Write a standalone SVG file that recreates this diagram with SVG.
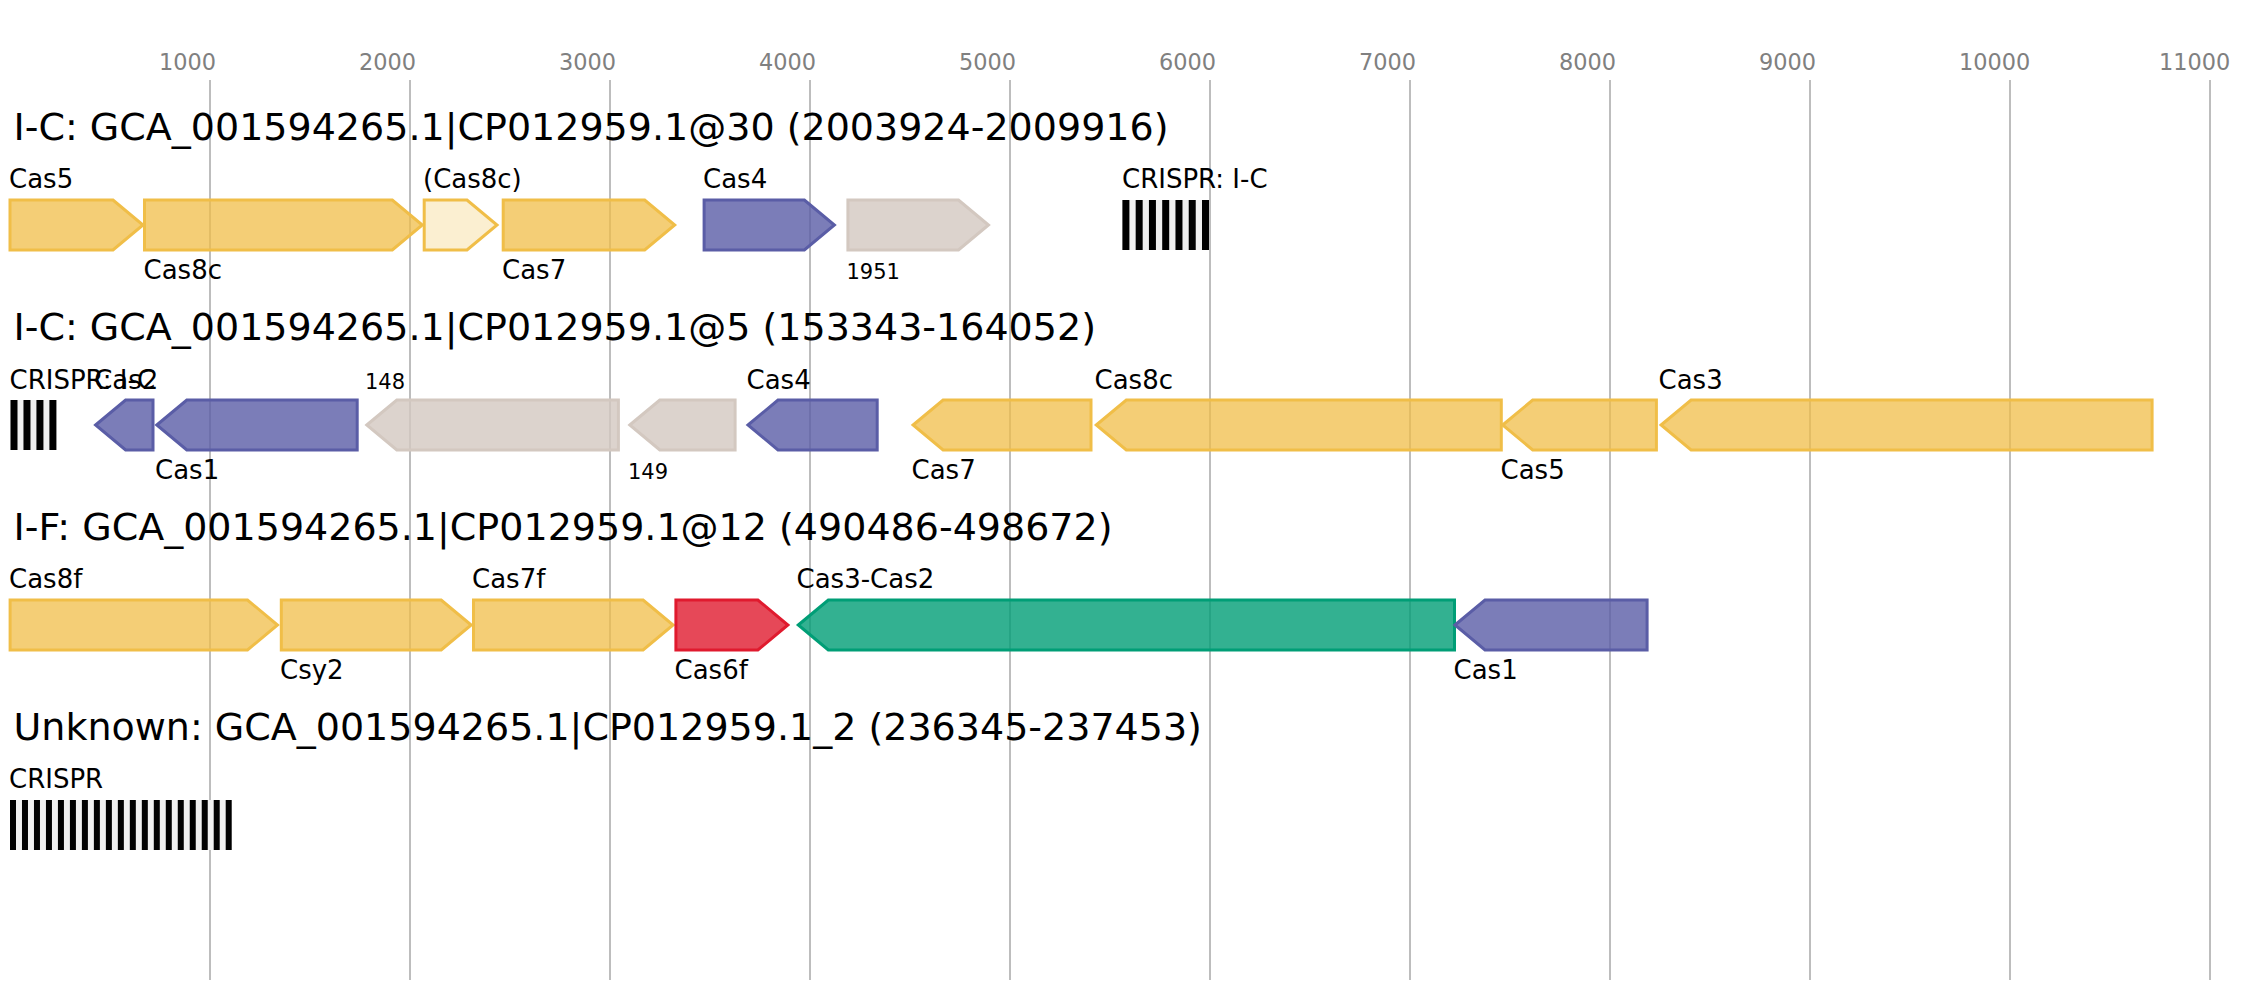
<svg xmlns="http://www.w3.org/2000/svg" width="2242" height="1000" viewBox="0 0 2242 1000">
<style>
text{font-family:"DejaVu Sans","Liberation Sans",sans-serif;fill:#000}
.title{font-size:38px}
.lab{font-size:26px}
.small{font-size:21px}
.tick{font-size:22.4px;fill:#808080}
.grid{stroke:#bdbdbd;stroke-width:2}
.g{stroke-width:3;stroke-linejoin:miter}
.y{fill:#F0BE48;fill-opacity:.75;stroke:#F0BE48}
.yl{fill:#F0BE48;fill-opacity:.25;stroke:#F0BE48}
.b{fill:#5A5DA6;fill-opacity:.8;stroke:#5A5DA6}
.gr{fill:#D3C8C0;fill-opacity:.8;stroke:#D3C8C0}
.r{fill:#E01A2E;fill-opacity:.8;stroke:#E01A2E}
.gn{fill:#009E76;fill-opacity:.8;stroke:#009E76}
.arr{fill:#efefef}
.rep{fill:#000}
</style>
<rect width="2242" height="1000" fill="#fff"/>
<g id="axis">
<line class="grid" x1="210" y1="80" x2="210" y2="980"/>
<line class="grid" x1="410" y1="80" x2="410" y2="980"/>
<line class="grid" x1="610" y1="80" x2="610" y2="980"/>
<line class="grid" x1="810" y1="80" x2="810" y2="980"/>
<line class="grid" x1="1010" y1="80" x2="1010" y2="980"/>
<line class="grid" x1="1210" y1="80" x2="1210" y2="980"/>
<line class="grid" x1="1410" y1="80" x2="1410" y2="980"/>
<line class="grid" x1="1610" y1="80" x2="1610" y2="980"/>
<line class="grid" x1="1810" y1="80" x2="1810" y2="980"/>
<line class="grid" x1="2010" y1="80" x2="2010" y2="980"/>
<line class="grid" x1="2210" y1="80" x2="2210" y2="980"/>
<text class="tick" x="159" y="70">1000</text>
<text class="tick" x="359" y="70">2000</text>
<text class="tick" x="559" y="70">3000</text>
<text class="tick" x="759" y="70">4000</text>
<text class="tick" x="959" y="70">5000</text>
<text class="tick" x="1159" y="70">6000</text>
<text class="tick" x="1359" y="70">7000</text>
<text class="tick" x="1559" y="70">8000</text>
<text class="tick" x="1759" y="70">9000</text>
<text class="tick" x="1959" y="70">10000</text>
<text class="tick" x="2159" y="70">11000</text>
</g>

<g id="row1">
<text class="title" x="13.5" y="140">I-C: GCA_001594265.1|CP012959.1@30 (2003924-2009916)</text>
<g id="r1-cas5"><polygon class="g y" points="10,200 113,200 143,225 113,250 10,250"/><text class="lab" x="9" y="188">Cas5</text></g>
<g id="r1-cas8c"><polygon class="g y" points="144.5,200 392.3,200 422.3,225 392.3,250 144.5,250"/><text class="lab" x="143.5" y="279">Cas8c</text></g>
<g id="r1-cas8c-partial"><polygon class="g yl" points="424.2,200 467,200 497,225 467,250 424.2,250"/><text class="lab" x="423" y="188">(Cas8c)</text></g>
<g id="r1-cas7"><polygon class="g y" points="503.2,200 644.7,200 674.7,225 644.7,250 503.2,250"/><text class="lab" x="502" y="279">Cas7</text></g>
<g id="r1-cas4"><polygon class="g b" points="704.1,200 804.4,200 834.4,225 804.4,250 704.1,250"/><text class="lab" x="703" y="188">Cas4</text></g>
<g id="r1-1951"><polygon class="g gr" points="847.9,200 958.5,200 988.5,225 958.5,250 847.9,250"/><text class="small" x="846.5" y="279">1951</text></g>
<g id="r1-crispr">
<rect class="arr" x="1122.4" y="200" width="86.6" height="50"/>
<rect class="rep" x="1122.4" y="200" width="7" height="50"/>
<rect class="rep" x="1135.67" y="200" width="7" height="50"/>
<rect class="rep" x="1148.93" y="200" width="7" height="50"/>
<rect class="rep" x="1162.2" y="200" width="7" height="50"/>
<rect class="rep" x="1175.47" y="200" width="7" height="50"/>
<rect class="rep" x="1188.73" y="200" width="7" height="50"/>
<rect class="rep" x="1202" y="200" width="7" height="50"/>
<text class="lab" x="1122" y="188">CRISPR: I-C</text>
</g>
</g>

<g id="row2">
<text class="title" x="13.5" y="340">I-C: GCA_001594265.1|CP012959.1@5 (153343-164052)</text>
<g id="r2-crispr">
<rect class="arr" x="10.5" y="400" width="45.9" height="50"/>
<rect class="rep" x="10.5" y="400" width="7" height="50"/>
<rect class="rep" x="23.47" y="400" width="7" height="50"/>
<rect class="rep" x="36.43" y="400" width="7" height="50"/>
<rect class="rep" x="49.4" y="400" width="7" height="50"/>
<text class="lab" x="9.5" y="389">CRISPR: I-C</text>
</g>
<g id="r2-cas2"><polygon class="g b" points="95.6,425 125.6,400 153,400 153,450 125.6,450"/><text class="lab" x="94.2" y="389">Cas2</text></g>
<g id="r2-cas1"><polygon class="g b" points="156.8,425 186.8,400 357.2,400 357.2,450 186.8,450"/><text class="lab" x="155" y="479">Cas1</text></g>
<g id="r2-148"><polygon class="g gr" points="366.8,425 396.8,400 618.4,400 618.4,450 396.8,450"/><text class="small" x="365" y="389">148</text></g>
<g id="r2-149"><polygon class="g gr" points="629.8,425 659.8,400 735.1,400 735.1,450 659.8,450"/><text class="small" x="628" y="479">149</text></g>
<g id="r2-cas4"><polygon class="g b" points="748,425 778,400 877.2,400 877.2,450 778,450"/><text class="lab" x="746.5" y="389">Cas4</text></g>
<g id="r2-cas7"><polygon class="g y" points="913.1,425 943.1,400 1091,400 1091,450 943.1,450"/><text class="lab" x="911.5" y="479">Cas7</text></g>
<g id="r2-cas8c"><polygon class="g y" points="1096.3,425 1126.3,400 1501.3,400 1501.3,450 1126.3,450"/><text class="lab" x="1094.5" y="389">Cas8c</text></g>
<g id="r2-cas5"><polygon class="g y" points="1502.7,425 1532.7,400 1656.4,400 1656.4,450 1532.7,450"/><text class="lab" x="1500.5" y="479">Cas5</text></g>
<g id="r2-cas3"><polygon class="g y" points="1661.1,425 1691.1,400 2152.1,400 2152.1,450 1691.1,450"/><text class="lab" x="1658.5" y="389">Cas3</text></g>
</g>

<g id="row3">
<text class="title" x="13.5" y="540">I-F: GCA_001594265.1|CP012959.1@12 (490486-498672)</text>
<g id="r3-cas8f"><polygon class="g y" points="10.1,600 247.5,600 277.5,625 247.5,650 10.1,650"/><text class="lab" x="9" y="588">Cas8f</text></g>
<g id="r3-csy2"><polygon class="g y" points="281.3,600 441.2,600 471.2,625 441.2,650 281.3,650"/><text class="lab" x="280" y="679">Csy2</text></g>
<g id="r3-cas7f"><polygon class="g y" points="473.5,600 643.1,600 673.1,625 643.1,650 473.5,650"/><text class="lab" x="472" y="588">Cas7f</text></g>
<g id="r3-cas6f"><polygon class="g r" points="675.9,600 757.9,600 787.9,625 757.9,650 675.9,650"/><text class="lab" x="674.5" y="679">Cas6f</text></g>
<g id="r3-cas3cas2"><polygon class="g gn" points="798.3,625 828.3,600 1454.5,600 1454.5,650 828.3,650"/><text class="lab" x="796.5" y="588">Cas3-Cas2</text></g>
<g id="r3-cas1"><polygon class="g b" points="1455,625 1485,600 1647.1,600 1647.1,650 1485,650"/><text class="lab" x="1453.5" y="679">Cas1</text></g>
</g>

<g id="row4">
<text class="title" x="13.5" y="740">Unknown: GCA_001594265.1|CP012959.1_2 (236345-237453)</text>
<g id="r4-crispr">
<rect class="arr" x="10" y="800" width="221.7" height="50"/>
<rect class="rep" x="10" y="800" width="6" height="50"/>
<rect class="rep" x="21.98" y="800" width="6" height="50"/>
<rect class="rep" x="33.97" y="800" width="6" height="50"/>
<rect class="rep" x="45.95" y="800" width="6" height="50"/>
<rect class="rep" x="57.93" y="800" width="6" height="50"/>
<rect class="rep" x="69.92" y="800" width="6" height="50"/>
<rect class="rep" x="81.9" y="800" width="6" height="50"/>
<rect class="rep" x="93.88" y="800" width="6" height="50"/>
<rect class="rep" x="105.87" y="800" width="6" height="50"/>
<rect class="rep" x="117.85" y="800" width="6" height="50"/>
<rect class="rep" x="129.83" y="800" width="6" height="50"/>
<rect class="rep" x="141.82" y="800" width="6" height="50"/>
<rect class="rep" x="153.8" y="800" width="6" height="50"/>
<rect class="rep" x="165.78" y="800" width="6" height="50"/>
<rect class="rep" x="177.77" y="800" width="6" height="50"/>
<rect class="rep" x="189.75" y="800" width="6" height="50"/>
<rect class="rep" x="201.73" y="800" width="6" height="50"/>
<rect class="rep" x="213.72" y="800" width="6" height="50"/>
<rect class="rep" x="225.7" y="800" width="6" height="50"/>
<text class="lab" x="9" y="788">CRISPR</text>
</g>
</g>
</svg>
